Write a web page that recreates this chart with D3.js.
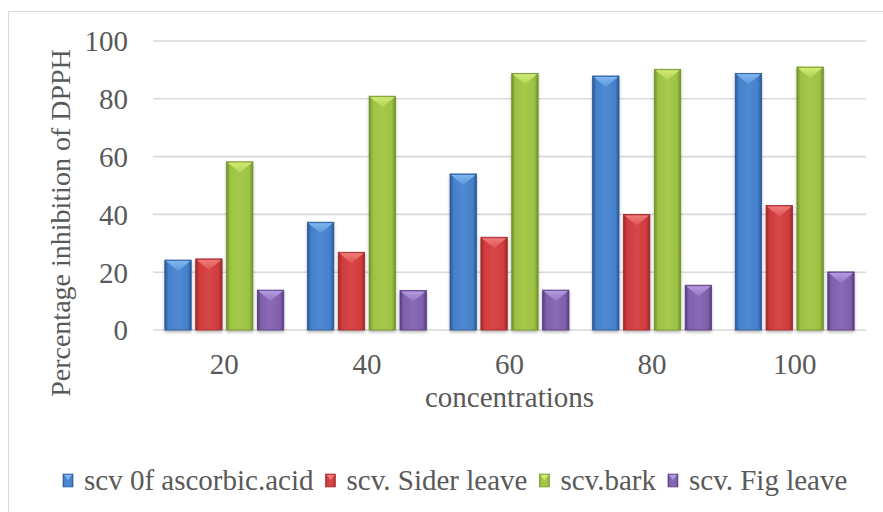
<!DOCTYPE html>
<html>
<head>
<meta charset="utf-8">
<script src="https://cdn.jsdelivr.net/npm/d3@7"></script>
<style>
  html, body { margin: 0; padding: 0; background: #fff; }
  svg { display: block; }
  text { font-family: "Liberation Serif", "Tinos", "Nimbus Roman", "Times New Roman", serif; fill: #595959; }
</style>
</head>
<body>
<svg id="chart" width="883" height="512"></svg>
<script>
// Concentrations on the x axis
const categories = ["20", "40", "60", "80", "100"];
// Series names, in legend order
const seriesNames = ["scv 0f ascorbic.acid", "scv. Sider leave", "scv.bark", "scv. Fig leave"];
// Percentage inhibition of DPPH per series
const ascorbicAcid = [24.2, 37.3, 54.0, 87.9, 88.8];
const siderLeave   = [24.6, 26.9, 32.1, 40.0, 43.1];
const bark         = [58.2, 80.9, 88.8, 90.2, 91.0];
const figLeave     = [13.8, 13.7, 13.8, 15.5, 20.1];
// Y axis ticks
const yTicks = [0, 20, 40, 60, 80, 100];

const seriesValues = [ascorbicAcid, siderLeave, bark, figLeave];

// Bevel palette per series: edge, body, highlight
const palette = [
  { edge: "#285896", body: "#4580cb", light: "#7fb6f0" },
  { edge: "#9e2729", body: "#d03c3e", light: "#f07a78" },
  { edge: "#71902a", body: "#9cc243", light: "#d0ea72" },
  { edge: "#553d7e", body: "#8060ad", light: "#b39ae0" }
];

const svg = d3.select("#chart");
const defs = svg.append("defs");

// Outer chart frame
svg.append("rect")
  .attr("x", 8.5).attr("y", 11.5)
  .attr("width", 900).attr("height", 560)
  .attr("fill", "#fff").attr("stroke", "#d9d9d9").attr("stroke-width", 1);

const plot = { left: 153, right: 866, top: 41, bottom: 330 };

const x0 = d3.scaleBand()
  .domain(categories)
  .range([plot.left, plot.right])
  .paddingInner(0.166)
  .paddingOuter(0.083);

const x1 = d3.scaleBand()
  .domain(d3.range(seriesNames.length))
  .range([0, x0.bandwidth()])
  .paddingInner(0.145)
  .paddingOuter(0);

const y = d3.scaleLinear().domain([0, 100]).range([plot.bottom, plot.top]);

// Gradients and shadow
palette.forEach((p, i) => {
  const g = defs.append("linearGradient").attr("id", "body" + i)
    .attr("x1", "0%").attr("x2", "100%").attr("y1", "0%").attr("y2", "0%");
  g.append("stop").attr("offset", "0%").attr("stop-color", p.edge);
  g.append("stop").attr("offset", "14%").attr("stop-color", p.body);
  g.append("stop").attr("offset", "50%").attr("stop-color", d3.interpolateRgb(p.body, p.light)(0.18));
  g.append("stop").attr("offset", "86%").attr("stop-color", p.body);
  g.append("stop").attr("offset", "100%").attr("stop-color", p.edge);

  const t = defs.append("linearGradient").attr("id", "tip" + i)
    .attr("x1", "0%").attr("x2", "0%").attr("y1", "0%").attr("y2", "100%");
  t.append("stop").attr("offset", "0%").attr("stop-color", p.light);
  t.append("stop").attr("offset", "100%").attr("stop-color", d3.interpolateRgb(p.light, p.body)(0.6));
});

const shadow = defs.append("filter").attr("id", "shadow")
  .attr("x", "-20%").attr("y", "-10%").attr("width", "140%").attr("height", "130%");
shadow.append("feDropShadow")
  .attr("dx", 0).attr("dy", 2).attr("stdDeviation", 1.6)
  .attr("flood-color", "#000").attr("flood-opacity", 0.28);

// Gridlines
svg.append("g").selectAll("line")
  .data(yTicks)
  .join("line")
  .attr("x1", plot.left).attr("x2", plot.right)
  .attr("y1", d => y(d)).attr("y2", d => y(d))
  .attr("stroke", "#d9d9d9").attr("stroke-width", 1.6);

// Y tick labels
const yAxis = d3.axisLeft(y).tickValues(yTicks).tickSize(0).tickPadding(0);
svg.append("g")
  .attr("transform", `translate(${plot.left - 25},0)`)
  .call(yAxis)
  .call(g => g.select(".domain").remove())
  .call(g => g.selectAll("text")
    .attr("font-size", 29)
    .attr("fill", "#595959")
    .attr("dy", "0.34em"));

// X tick labels
const xAxis = d3.axisBottom(x0).tickSize(0).tickPadding(0);
svg.append("g")
  .attr("transform", `translate(0,${plot.bottom})`)
  .call(xAxis)
  .call(g => g.select(".domain").remove())
  .call(g => g.selectAll("text")
    .attr("font-size", 29)
    .attr("fill", "#595959")
    .attr("y", 44).attr("dy", 0));

// Bars
const groups = svg.append("g").selectAll("g")
  .data(categories)
  .join("g")
  .attr("transform", d => `translate(${x0(d)},0)`);

const bars = groups.selectAll("g.bar")
  .data((c, ci) => seriesValues.map((vals, si) => ({ si, v: vals[ci] })))
  .join("g").attr("class", "bar");

bars.append("rect")
  .attr("x", d => x1(d.si))
  .attr("y", d => y(d.v))
  .attr("width", x1.bandwidth())
  .attr("height", d => y(0) - y(d.v))
  .attr("fill", d => `url(#body${d.si})`)
  .attr("stroke", d => palette[d.si].edge)
  .attr("stroke-width", 0.8)
  .attr("filter", "url(#shadow)");

bars.append("path")
  .attr("d", d => {
    const bx = x1(d.si), bw = x1.bandwidth(), top = y(d.v);
    const depth = Math.min(11, (y(0) - top) / 2);
    return `M${bx + 1},${top + 1} L${bx + bw - 1},${top + 1} L${bx + bw / 2},${top + depth} Z`;
  })
  .attr("fill", d => `url(#tip${d.si})`);

// Axis titles
svg.append("text")
  .attr("x", (plot.left + plot.right) / 2)
  .attr("y", 407)
  .attr("text-anchor", "middle")
  .attr("font-size", 29)
  .text("concentrations");

svg.append("text")
  .attr("transform", `translate(70,223) rotate(-90)`)
  .attr("text-anchor", "middle")
  .attr("font-size", 28)
  .text("Percentage inhibition of DPPH");

// Legend
const legend = svg.append("g").attr("transform", "translate(63,0)");
let lx = 0;
seriesNames.forEach((name, i) => {
  const item = legend.append("g").attr("transform", `translate(${lx},0)`);
  item.append("rect")
    .attr("x", 0).attr("y", 474).attr("width", 10).attr("height", 13)
    .attr("fill", `url(#body${i})`)
    .attr("stroke", palette[i].edge).attr("stroke-width", 0.6);
  item.append("path")
    .attr("d", "M1,475 L9,475 L5,480 Z")
    .attr("fill", palette[i].light);
  const t = item.append("text")
    .attr("x", 21).attr("y", 490)
    .attr("font-size", 29)
    .text(name);
  lx += 21 + t.node().getComputedTextLength() + 12;
});
</script>
</body>
</html>
